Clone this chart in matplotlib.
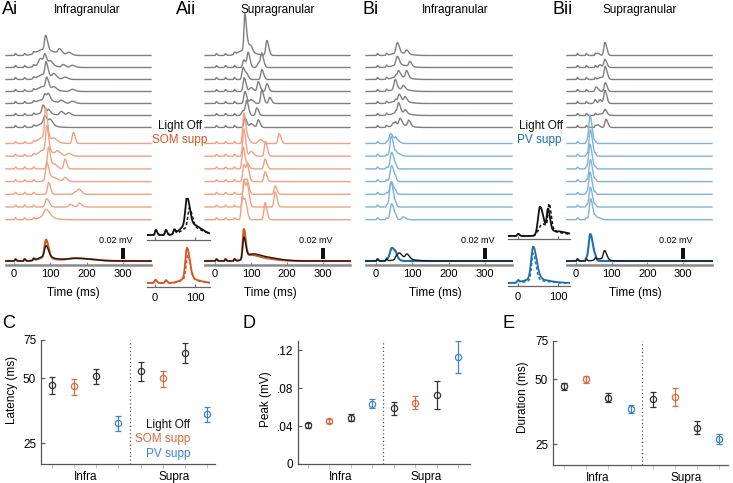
import numpy as np
import matplotlib
matplotlib.use('Agg')
import matplotlib.pyplot as plt
from matplotlib.ticker import NullLocator

plt.rcParams['font.family'] = ['Liberation Sans', 'DejaVu Sans']

# ---------------- data ----------------
# Each trace is a list of response events:
# (time in ms, amplitude in µV, width in ms)
STIM_TIMES = [4, 29, 54]
STIM_AMP = 3.5

AI_OFF = [
    [(87, 26, 3), (80, 11, 18), (125, 9, 4), (150, 5, 5)],
    [(85, 16, 3), (72, 9, 4), (78, 8, 14), (100, 7, 4), (135, 5, 4), (160, 4, 5)],
    [(88, 24, 3), (80, 9, 14), (110, 7, 4), (140, 4, 5)],
    [(90, 18, 3), (80, 9, 14), (110, 5, 4), (160, 4, 5)],
    [(85, 11, 3), (95, 11, 3), (80, 7, 16), (130, 5, 4), (160, 4, 5)],
    [(80, 14, 3), (95, 7, 3), (80, 5, 14), (130, 7, 4), (150, 5, 4)],
    [(85, 14, 4), (100, 9, 4), (80, 7, 14)],
]
AI_SOM = [
    [(87, 55, 3), (80, 11, 14), (110, 5, 5), (163, 20, 3)],
    [(90, 45, 3), (82, 11, 14), (120, 7, 5), (150, 5, 5)],
    [(95, 40, 3), (110, 9, 5), (140, 18, 3)],
    [(90, 30, 3), (100, 9, 10), (140, 7, 4)],
    [(95, 22, 3), (170, 5, 5), (180, 7, 4)],
    [(90, 15, 4), (155, 5, 4), (180, 7, 4)],
    [(88, 14, 6), (82, 5, 14)],
]
AII_OFF = [
    [(83, 67, 2.5), (78, 9, 15), (92, 11, 3), (100, 9, 3), (144, 27, 3)],
    [(80, 14, 3), (92, 27, 3), (122, 9, 4), (130, 22, 3)],
    [(78, 22, 3), (88, 9, 3), (130, 18, 3)],
    [(81, 25, 3), (100, 7, 4), (120, 18, 3), (144, 14, 3)],
    [(83, 22, 3), (100, 7, 4), (130, 25, 3), (152, 11, 3)],
    [(78, 9, 4), (88, 25, 3), (116, 14, 3)],
    [(83, 18, 3), (100, 7, 4), (120, 14, 3)],
]
AII_SOM = [
    [(80, 55, 3), (90, 9, 4), (125, 7, 5), (178, 18, 3)],
    [(80, 50, 3), (100, 9, 4), (140, 27, 3)],
    [(78, 40, 3), (90, 9, 3), (139, 18, 3)],
    [(80, 31, 3), (90, 27, 3), (139, 18, 3)],
    [(82, 27, 3), (90, 18, 3), (167, 15, 3)],
    [(80, 49, 3), (90, 36, 3), (167, 27, 3)],
    [(76, 42, 3), (85, 27, 3), (139, 31, 3)],
]
BI_OFF = [
    [(59, 18, 3), (60, 5, 15), (84, 7, 3)],
    [(59, 15, 3), (60, 5, 15), (93, 9, 3)],
    [(62, 11, 3), (60, 5, 15), (84, 13, 3)],
    [(52, 15, 3), (60, 5, 15), (75, 7, 3)],
    [(64, 12, 3), (60, 5, 15), (80, 9, 3)],
    [(62, 18, 3), (60, 5, 15), (80, 7, 3)],
    [(48, 5, 3), (66, 12, 3), (60, 5, 15), (90, 11, 3)],
]
BI_PV = [
    [(40, 18, 4), (55, 7, 5)],
    [(42, 36, 3.5), (60, 5, 5)],
    [(43, 30, 4)],
    [(43, 29, 4)],
    [(42, 23, 4)],
    [(41, 45, 4)],
    [(43, 29, 4), (75, 5, 4)],
]
BII_OFF = [
    [(61, 4, 3), (81, 24, 3)],
    [(67, 5, 3), (81, 15, 3)],
    [(70, 4, 6), (82, 22, 3)],
    [(58, 7, 3), (82, 16, 3)],
    [(53, 4, 3), (67, 7, 3), (81, 24, 3)],
    [(70, 3, 8), (81, 9, 3)],
    [(61, 5, 3), (84, 15, 3)],
]
BII_PV = [
    [(39, 51, 3.5)],
    [(40, 48, 3.5)],
    [(39, 45, 3.5)],
    [(40, 40, 3.5)],
    [(39, 40, 3.5)],
    [(40, 36, 3.5)],
    [(41, 38, 3.5), (60, 4, 5)],
]

# trial-averaged overlays (µV)
AI_MEAN_OFF = [(88, 20, 4), (84, 8, 16), (170, 5, 25)]
AI_MEAN_SOM = [(88, 33, 4), (82, 6, 16), (170, 5, 25)]
AII_MEAN_OFF = [(80, 38, 3), (95, 8, 12), (125, 8, 25)]
AII_MEAN_SOM = [(80, 53, 3), (95, 6, 12), (115, 6, 25)]
BI_MEAN_OFF = [(63, 11, 5), (85, 9, 4), (70, 4, 18)]
BI_MEAN_PV = [(44, 24, 6)]
BII_MEAN_OFF = [(65, 4, 12), (80, 16, 3.5)]
BII_MEAN_PV = [(40, 49, 4.5)]

# normalized insets (µV-equivalent)
INSET_A_OFF = [(2, 9, 2), (27, 9, 2), (48, 8, 2), (80, 51, 4), (78, 18, 15), (105, 6, 12)]
INSET_A_OFF_DASH = [(2, 9, 2), (27, 9, 2), (48, 8, 2), (86, 36, 4), (80, 12, 15), (105, 5, 12)]
INSET_A_SOM = [(1, 6, 2), (27, 5, 2), (80, 55, 4), (80, 9, 15)]
INSET_A_SOM_DASH = [(1, 6, 2), (27, 5, 2), (82, 44, 4), (80, 7, 15)]
INSET_B_OFF = [(0, 4, 2), (55, 51, 5), (75, 40, 3), (90, 9, 20)]
INSET_B_OFF_DASH = [(0, 4, 2), (60, 20, 8), (78, 45, 3), (90, 7, 18)]
INSET_B_PV = [(0, 4, 2), (38, 58, 5), (38, 8, 20)]
INSET_B_PV_DASH = [(0, 4, 2), (38, 49, 4), (40, 5, 18)]

TIME_TICKS = [0, 100, 200, 300]
INSET_TICKS = [0, 100]
SCALE_BAR_MV = 0.02

GROUPS = ['Infra', 'Supra']
CONDITIONS = ['Light Off', 'SOM supp', 'Light Off', 'PV supp',
              'Light Off', 'SOM supp', 'Light Off', 'PV supp']
LATENCY = [46.5, 45.7, 51.1, 31.0, 54.0, 49.8, 65.5, 34.1]
LATENCY_ERR = [4.3, 4.0, 4.1, 2.5, 5.3, 4.2, 7.0, 2.7]
PEAK = [0.0407, 0.0456, 0.0490, 0.0634, 0.0588, 0.0648, 0.0724, 0.1128]
PEAK_ERR = [0.0025, 0.0020, 0.0040, 0.0047, 0.0068, 0.0071, 0.0148, 0.0164]
DURATION = [46.2, 50.0, 41.0, 36.3, 40.4, 41.5, 29.8, 26.4]
DURATION_ERR = [1.7, 1.9, 1.9, 1.5, 3.3, 3.8, 2.0, 1.4]

# ---------------- style ----------------
GRAY = '#7f7f7f'
LIGHT = {'SOM supp': '#F0A282', 'PV supp': '#7DB3DA'}
DARK = {'SOM supp': '#D9541E', 'PV supp': '#1F6DB2'}
MARK = {'Light Off': '#333333', 'SOM supp': '#DC6A3C', 'PV supp': '#3A86C8'}
PX_PER_MV = 550.0

W, H = 733, 483
fig = plt.figure(figsize=(W / 100, H / 100), dpi=100)


def axpx(x0, y0, x1, y1):
    return fig.add_axes([x0 / W, 1 - y1 / H, (x1 - x0) / W, (y1 - y0) / H])


def wave(t, events, stim=True):
    y = np.zeros_like(t)
    evs = list(events)
    if stim:
        evs += [(s, STIM_AMP, 1.5) for s in STIM_TIMES]
    for (t0, a, w) in evs:
        s = np.where(t < t0, w, 1.7 * w)
        y += a * np.exp(-0.5 * ((t - t0) / s) ** 2)
    return y / 1000.0


def figtext(x, y, s, **kw):
    fig.text(x / W, 1 - y / H, s, **kw)


def trace_panel(x0, x1, t0px, pxms, off, cond, cname, mean_off, mean_cond, xlab_x):
    xl = ((x0 - t0px) / pxms, (x1 - t0px) / pxms)
    t = np.linspace(xl[0], xl[1], 900)
    ax = axpx(x0, 20, x1, 235)
    ax.set_xlim(xl)
    ax.set_ylim(0, 215 / PX_PER_MV)
    ax.axis('off')
    for i, ev in enumerate(off):
        base = (235 - (55.5 + 12.0 * i)) / PX_PER_MV
        ax.plot(t, base + wave(t, ev), color=GRAY, lw=1.0, clip_on=False)
    for j, ev in enumerate(cond):
        base = (235 - (143.5 + 12.7 * j)) / PX_PER_MV
        ax.plot(t, base + wave(t, ev), color=LIGHT[cname], lw=1.0, clip_on=False)

    axb = axpx(x0, 225, x1, 265)
    axb.set_xlim(xl)
    axb.set_ylim(-4 / PX_PER_MV, 36 / PX_PER_MV)
    axb.patch.set_alpha(0)
    axb.plot(t, wave(t, mean_cond), color=DARK[cname], lw=1.5, clip_on=False)
    axb.plot(t, wave(t, mean_off), color='#1a1a1a', lw=1.0, clip_on=False)
    for s in ['top', 'right', 'left']:
        axb.spines[s].set_visible(False)
    axb.spines['bottom'].set_color('#8a8a8a')
    axb.spines['bottom'].set_linewidth(1.8)
    axb.set_yticks([])
    axb.set_xticks(TIME_TICKS)
    axb.tick_params(axis='x', direction='in', length=2.5, color='#8a8a8a',
                    labelsize=8, pad=3)
    figtext(xlab_x, 293, 'Time (ms)', fontsize=8.5, ha='center', va='center')
    axb.bar(300, SCALE_BAR_MV, width=11, bottom=0.004, color='#111111')
    axb.text(280, 0.037, '0.02 mV', ha='center', va='center', fontsize=6.5)
    return ax, axb


def inset(x0, y0, x1, y1, base_px, t0px, pxms, solid, dash, color, labels):
    xl = ((x0 - t0px) / pxms, (x1 - t0px) / pxms)
    t = np.linspace(xl[0], xl[1], 500)
    ax = axpx(x0, y0, x1, y1)
    ax.set_xlim(xl)
    ax.set_ylim(-(y1 - base_px) / PX_PER_MV, (base_px - y0) / PX_PER_MV)
    ax.patch.set_alpha(0)
    ax.plot(t, wave(t, dash, stim=False), color=color, lw=1.1, ls=(0, (2, 1.5)))
    ax.plot(t, wave(t, solid, stim=False), color=color, lw=1.3)
    for s in ['top', 'right', 'left']:
        ax.spines[s].set_visible(False)
    ax.spines['bottom'].set_color('#666666')
    ax.spines['bottom'].set_linewidth(0.9)
    ax.set_yticks([])
    ax.set_xticks(INSET_TICKS)
    ax.tick_params(axis='x', direction='in', length=2.5, color='#666666',
                   labelsize=8, pad=4, labelbottom=labels)


# ---------------- top panels ----------------
trace_panel(6, 151, 14, 0.3633, AI_OFF, AI_SOM, 'SOM supp', AI_MEAN_OFF, AI_MEAN_SOM, 73)
trace_panel(205, 350, 215, 0.360, AII_OFF, AII_SOM, 'SOM supp', AII_MEAN_OFF, AII_MEAN_SOM, 270)
trace_panel(366, 512, 376, 0.3633, BI_OFF, BI_PV, 'PV supp', BI_MEAN_OFF, BI_MEAN_PV, 435)
trace_panel(567, 712, 576, 0.3567, BII_OFF, BII_PV, 'PV supp', BII_MEAN_OFF, BII_MEAN_PV, 635)

inset(147, 198, 210, 240, 235, 155, 0.4, INSET_A_OFF, INSET_A_OFF_DASH, '#111111', False)
inset(147, 246, 210, 287, 283, 155, 0.4, INSET_A_SOM, INSET_A_SOM_DASH, DARK['SOM supp'], True)
inset(508, 198, 570, 239, 236, 518, 0.4, INSET_B_OFF, INSET_B_OFF_DASH, '#111111', False)
inset(508, 246, 570, 286, 283, 518, 0.4, INSET_B_PV, INSET_B_PV_DASH, DARK['PV supp'], True)

figtext(2, 10, 'Ai', fontsize=13, va='center', ha='left')
figtext(87.5, 10, 'Infragranular', fontsize=8.5, va='center', ha='center')
figtext(176, 10, 'Aii', fontsize=13, va='center', ha='left')
figtext(278, 10, 'Supragranular', fontsize=8.5, va='center', ha='center')
figtext(363, 10, 'Bi', fontsize=13, va='center', ha='left')
figtext(455, 10, 'Infragranular', fontsize=8.5, va='center', ha='center')
figtext(552, 10, 'Bii', fontsize=13, va='center', ha='left')
figtext(640, 10, 'Supragranular', fontsize=8.5, va='center', ha='center')

figtext(180, 126, 'Light Off', fontsize=8.5, ha='center', va='center', color='#111111')
figtext(180, 140, 'SOM supp', fontsize=8.5, ha='center', va='center', color=DARK['SOM supp'])
figtext(541, 126, 'Light Off', fontsize=8.5, ha='center', va='center', color='#111111')
figtext(539, 140, 'PV supp', fontsize=8.5, ha='center', va='center', color=DARK['PV supp'])

# ---------------- summary panels ----------------
POS = np.arange(1, 9)


def stat_panel(box, vals, errs, log, ylim, yticks, yticklabels, xlim, ylabel, ylab_xy, letter_xy, letter):
    ax = axpx(*box)
    for p, v, e, c in zip(POS, vals, errs, CONDITIONS):
        col = MARK[c]
        ax.errorbar(p, v, yerr=e, fmt='o', mfc='none', mec=col, ecolor=col,
                    ms=4.5, mew=0.9, elinewidth=0.9, capsize=2.2, capthick=0.9)
    ax.axvline(4.5, color='#555555', ls=(0, (1, 2)), lw=0.9)
    if log:
        ax.set_yscale('log')
    ax.set_ylim(*ylim)
    ax.set_xlim(*xlim)
    ax.set_yticks(yticks)
    ax.set_yticklabels(yticklabels)
    ax.yaxis.set_minor_locator(NullLocator())
    ax.set_xticks([2.5, 6.5])
    ax.set_xticklabels(GROUPS)
    ax.set_xticks(POS, minor=True)
    ax.tick_params(axis='x', which='major', length=0, labelsize=8.5, pad=5)
    ax.tick_params(axis='x', which='minor', length=3, color='#bbbbbb', direction='out')
    ax.tick_params(axis='y', which='major', length=3, direction='in',
                   labelsize=8.5, color='#555555')
    for s in ['top', 'right']:
        ax.spines[s].set_visible(False)
    for s in ['left', 'bottom']:
        ax.spines[s].set_color('#555555')
        ax.spines[s].set_linewidth(0.9)
    figtext(ylab_xy[0], ylab_xy[1], ylabel, rotation=90, ha='center', va='center', fontsize=8.5)
    figtext(letter_xy[0], letter_xy[1], letter, fontsize=13, ha='left', va='center')
    return ax


axC = stat_panel((41, 340, 215, 464), LATENCY, LATENCY_ERR, True, (20, 75),
                 [25, 50, 75], ['25', '50', '75'], (0.5, 8.36),
                 'Latency (ms)', (12, 390), (2, 323), 'C')
axD = stat_panel((298, 341, 470, 464), PEAK, PEAK_ERR, False, (0, 0.1297),
                 [0, 0.04, 0.08, 0.12], ['0', '.04', '.08', '.12'], (0.53, 8.56),
                 'Peak (mV)', (266, 399), (242, 323), 'D')
axE = stat_panel((553, 341, 728, 465), DURATION, DURATION_ERR, True, (20, 75),
                 [25, 50, 75], ['25', '50', '75'], (0.5, 8.4),
                 'Duration (ms)', (523, 397), (502, 323), 'E')

figtext(190, 425, 'Light Off', fontsize=8.5, ha='right', va='center', color='#111111')
figtext(190, 439, 'SOM supp', fontsize=8.5, ha='right', va='center', color=MARK['SOM supp'])
figtext(190, 454, 'PV supp', fontsize=8.5, ha='right', va='center', color=MARK['PV supp'])

fig.savefig('out.png', dpi=100)
